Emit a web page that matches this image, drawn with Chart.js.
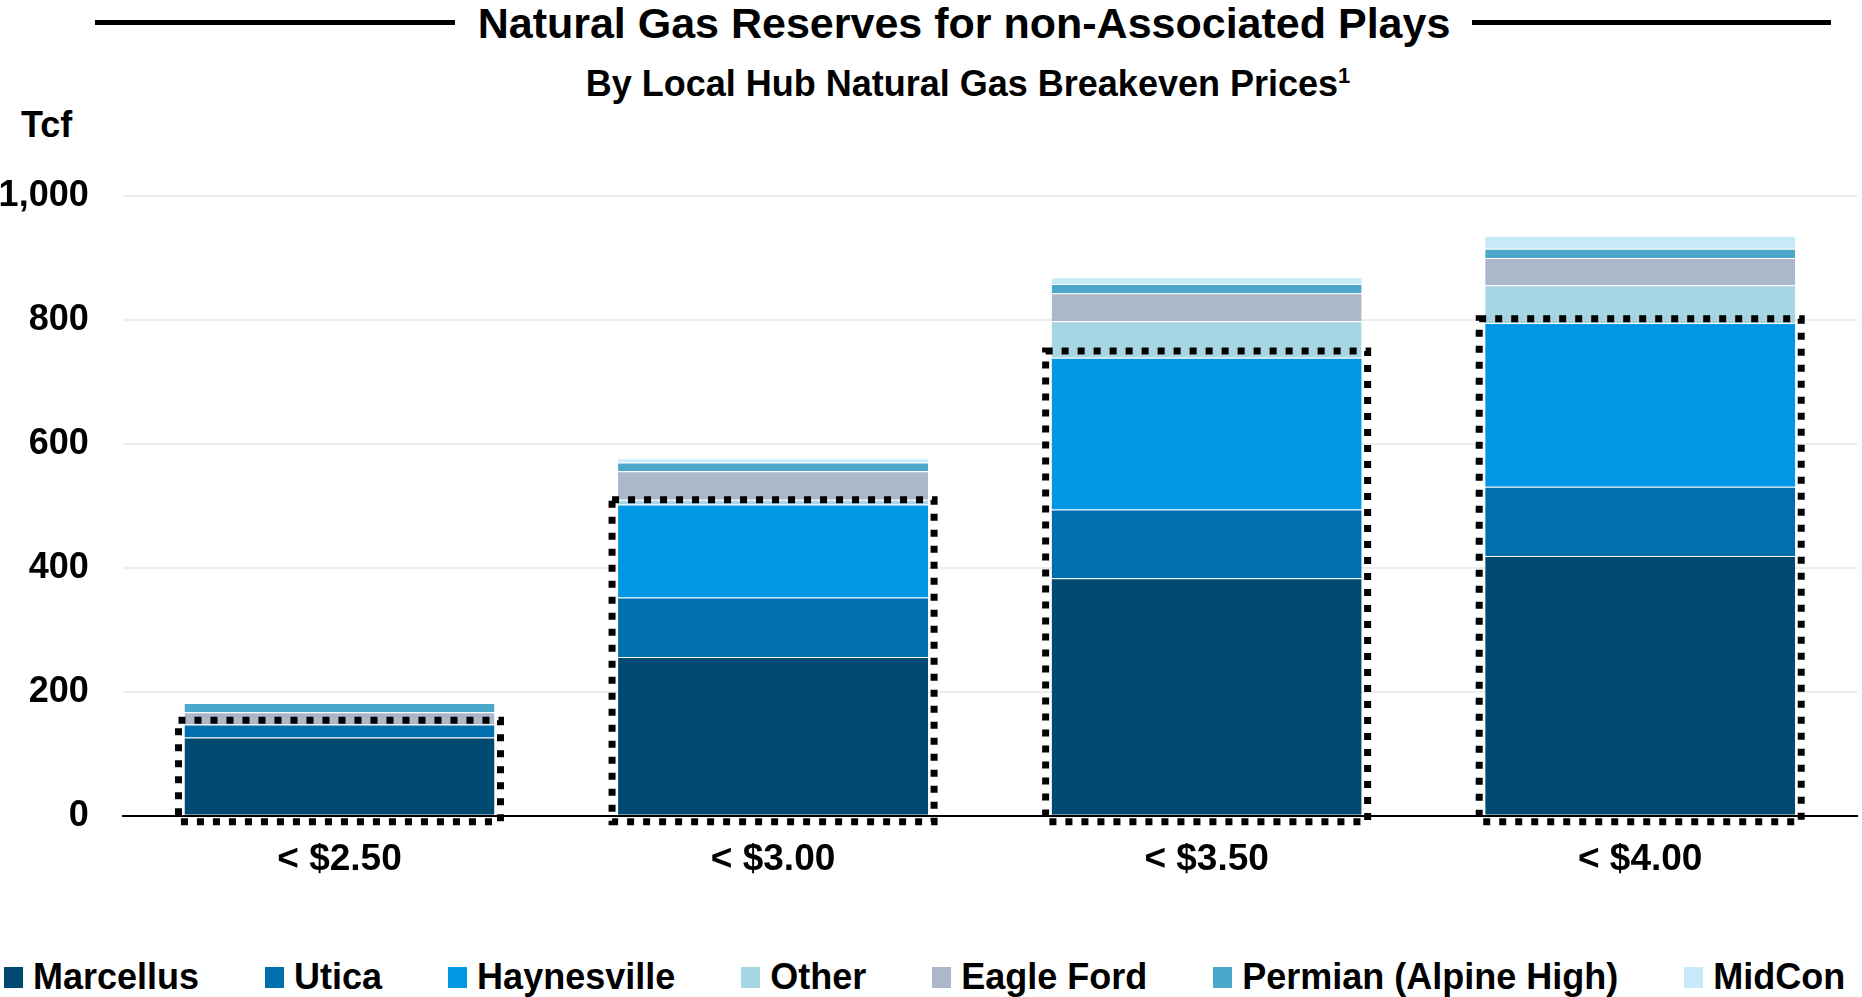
<!DOCTYPE html>
<html>
<head>
<meta charset="utf-8">
<script src="https://cdn.jsdelivr.net/npm/chart.js@4/dist/chart.umd.min.js"></script>
<style>
  html, body { margin: 0; padding: 0; background: #fff; }
  body { width: 1862px; height: 997px; position: relative; overflow: hidden;
         font-family: "Liberation Sans", Arial, sans-serif; font-weight: bold; color: #000; }
  .rule { position: absolute; height: 5px; background: #000; top: 20px; }
  #title { position: absolute; top: 2px; left: 964px; transform: translateX(-50%);
           font-size: 43px; line-height: 43px; white-space: nowrap; }
  #subtitle { position: absolute; top: 66px; left: 968px; transform: translateX(-50%);
              font-size: 36px; line-height: 36px; white-space: nowrap; }
  #subtitle sup { font-size: 22px; vertical-align: 0; position: relative; top: -13px; }
  #unit { position: absolute; top: 107px; left: 21px; font-size: 36px; line-height: 36px; }
  #chartBox { position: absolute; left: 0; top: 0; width: 1862px; height: 900px; }
  #legend { position: absolute; left: 4px; top: 959px; display: flex; white-space: nowrap;
            font-size: 36px; line-height: 36px; }
  .item { display: flex; align-items: center; margin-right: 66px; }
  .swatch { width: 19px; height: 21px; margin-right: 10px; margin-top: 1px; }
</style>
</head>
<body>
<div class="rule" style="left:95px; width:360px;"></div>
<div class="rule" style="left:1472px; width:359px;"></div>
<div id="title">Natural Gas Reserves for non-Associated Plays</div>
<div id="subtitle">By Local Hub Natural Gas Breakeven Prices<sup>1</sup></div>
<div id="unit">Tcf</div>
<div id="chartBox"><canvas id="chart"></canvas></div>
<div id="legend"></div>

<script>
// categorias e valores (Tcf)
const categories = ['< $2.50', '< $3.00', '< $3.50', '< $4.00'];
const seriesNames = ['Marcellus', 'Utica', 'Haynesville', 'Other', 'Eagle Ford', 'Permian (Alpine High)', 'MidCon'];
const seriesColors = ['#004a72', '#006fae', '#0098e5', '#a6d6e4', '#adb7ca', '#4ba8ca', '#c7eafb'];

const marcellus   = [126, 256, 383, 419];
const utica       = [21, 96, 111, 112];
const haynesville = [0, 150, 245, 264];
const other       = [0, 8, 59, 61];
const eagleFord   = [20, 46, 45, 44];
const permian     = [15, 14, 15, 15];
const midCon      = [0, 7, 11, 21];

// topo das caixas pontilhadas (Tcf)
const dottedTops = [154, 510, 750, 802];

const yTickValues = [0, 200, 400, 600, 800, 1000];

const seriesValues = [marcellus, utica, haynesville, other, eagleFord, permian, midCon];

const fontFamily = '"Liberation Sans", Arial, sans-serif';

// caixa pontilhada em volta de cada barra
const dottedBoxes = {
    id: 'dottedBoxes',
    afterDatasetsDraw(chart) {
        const ctx = chart.ctx;
        const y = chart.scales.y;
        const meta = chart.getDatasetMeta(0);
        ctx.save();
        ctx.strokeStyle = '#000';
        ctx.lineWidth = 7;
        ctx.setLineDash([7, 9]);
        meta.data.forEach((bar, i) => {
            const left = bar.x - bar.width / 2 - 6;
            const right = bar.x + bar.width / 2 + 6;
            const top = y.getPixelForValue(dottedTops[i]);
            const bottom = y.getPixelForValue(0) + 6;
            ctx.strokeRect(left, top, right - left, bottom - top);
        });
        ctx.restore();
    }
};

const chart = new Chart(document.getElementById('chart'), {
    type: 'bar',
    data: {
        labels: categories,
        datasets: seriesNames.map((name, i) => ({
            label: name,
            data: seriesValues[i],
            backgroundColor: seriesColors[i],
            borderColor: 'rgba(255,255,255,0.18)',
            borderWidth: { top: 1, left: 0, right: 0, bottom: 0 },
            borderSkipped: false,
            categoryPercentage: 1,
            barPercentage: 0.715
        }))
    },
    options: {
        responsive: true,
        maintainAspectRatio: false,
        animation: false,
        layout: { padding: { top: 196, left: 0, right: 5, bottom: 0 } },
        plugins: {
            legend: { display: false },
            tooltip: { enabled: false }
        },
        scales: {
            x: {
                stacked: true,
                grid: { display: false },
                border: { display: true, color: '#000', width: 2 },
                ticks: { color: '#000', padding: 14, font: { family: fontFamily, size: 37, weight: 'bold' } },
                afterFit: s => { s.height = 84.3; }
            },
            y: {
                stacked: true,
                min: 0,
                max: 1000,
                afterBuildTicks: s => { s.ticks = yTickValues.map(v => ({ value: v })); },
                grid: {
                    drawTicks: false,
                    color: c => c.tick && c.tick.value === 0 ? 'rgba(0,0,0,0)' : '#ededed',
                    lineWidth: 2
                },
                border: { display: false },
                ticks: {
                    color: '#000',
                    padding: 34,
                    font: { family: fontFamily, size: 36, weight: 'bold' },
                    callback: v => v.toLocaleString('en-US')
                },
                afterFit: s => { s.width = 122.7; }
            }
        }
    },
    plugins: [dottedBoxes]
});

// legenda em HTML a partir dos datasets
const legendEl = document.getElementById('legend');
chart.data.datasets.forEach(ds => {
    const item = document.createElement('div');
    item.className = 'item';
    item.innerHTML = `<span class="swatch" style="background:${ds.backgroundColor}"></span><span>${ds.label}</span>`;
    legendEl.appendChild(item);
});
</script>
</body>
</html>
